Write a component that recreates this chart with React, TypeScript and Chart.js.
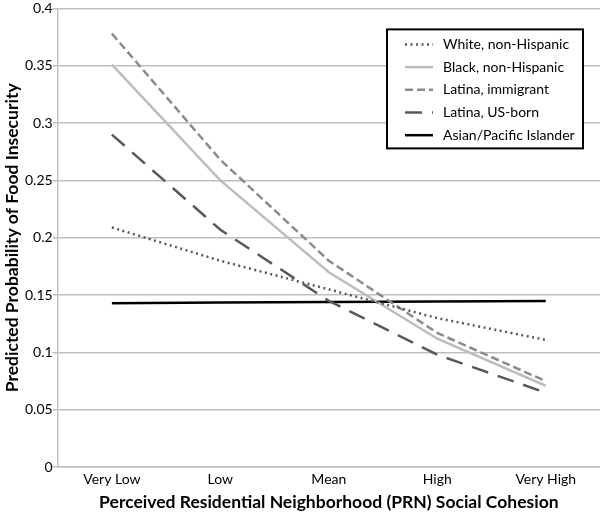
import React, { useEffect, useRef } from "react";
import { Chart, registerables } from "chart.js";

Chart.register(...registerables);

const categories = ["Very Low", "Low", "Mean", "High", "Very High"];
const whiteNH = [0.209, 0.18, 0.155, 0.13, 0.111];
const blackNH = [0.351, 0.25, 0.17, 0.112, 0.071];
const latinaImm = [0.378, 0.268, 0.18, 0.117, 0.075];
const latinaUS = [0.29, 0.207, 0.145, 0.098, 0.065];
const asianPI = [0.143, 0.1435, 0.144, 0.1445, 0.145];
const seriesNames = [
  "White, non-Hispanic",
  "Black, non-Hispanic",
  "Latina, immigrant",
  "Latina, US-born",
  "Asian/Pacific Islander",
];
const yTicks = [0, 0.05, 0.1, 0.15, 0.2, 0.25, 0.3, 0.35, 0.4];

const FONT = "Lato, 'Open Sans', sans-serif";

const legendPlugin = {
  id: "boxLegend",
  afterDraw(chart: any) {
    const ctx = chart.ctx;
    const area = chart.chartArea;
    const w = 196;
    const h = 119;
    const x0 = area.right - 17 - w;
    const y0 = area.top + 21;
    ctx.save();
    ctx.fillStyle = "#fff";
    ctx.fillRect(x0, y0, w, h);
    ctx.strokeStyle = "#000";
    ctx.lineWidth = 2;
    ctx.strokeRect(x0, y0, w, h);
    ctx.font = `14px ${FONT}`;
    ctx.textBaseline = "middle";
    chart.data.datasets.forEach((ds: any, i: number) => {
      const y = y0 + 15 + i * 22.7;
      ctx.beginPath();
      ctx.setLineDash(ds.borderDash || []);
      ctx.strokeStyle = ds.borderColor;
      ctx.lineWidth = ds.borderWidth;
      ctx.moveTo(x0 + 18, y);
      ctx.lineTo(x0 + 46, y);
      ctx.stroke();
      ctx.setLineDash([]);
      ctx.fillStyle = "#000";
      ctx.fillText(ds.label, x0 + 56, y);
    });
    ctx.restore();
  },
};

export default function App() {
  const ref = useRef<HTMLCanvasElement>(null);
  useEffect(() => {
    document.body.style.margin = "0";
    const mk = (label: string, data: number[], color: string, dash: number[], width = 2.5) => ({
      label,
      data,
      borderColor: color,
      backgroundColor: color,
      borderDash: dash,
      borderWidth: width,
      pointRadius: 0,
      tension: 0,
      fill: false,
    });
    const chart = new Chart(ref.current!, {
      type: "line",
      data: {
        labels: categories,
        datasets: [
          mk(seriesNames[0], whiteNH, "#595959", [2, 3.5]),
          mk(seriesNames[1], blackNH, "#bdbdbd", []),
          mk(seriesNames[2], latinaImm, "#8c8c8c", [8, 4]),
          mk(seriesNames[3], latinaUS, "#595959", [17, 10]),
          mk(seriesNames[4], asianPI, "#000000", []),
        ],
      },
      options: {
        animation: false,
        responsive: false,
        maintainAspectRatio: false,
        layout: { padding: { top: 7, right: 0, left: 2, bottom: 0 } },
        plugins: {
          legend: { display: false },
          tooltip: { enabled: false },
        },
        scales: {
          x: {
            offset: true,
            grid: { display: false, drawTicks: false },
            border: { color: "#bfbfbf", width: 1.5 },
            ticks: { color: "#000", font: { family: FONT, size: 14 }, padding: 4 },
            title: {
              display: true,
              text: "Perceived Residential Neighborhood (PRN) Social Cohesion",
              color: "#000",
              font: { family: FONT, size: 17.5, weight: "bold" },
              padding: { top: 0, bottom: 0 },
            },
          },
          y: {
            min: 0,
            max: 0.4,
            afterBuildTicks: (axis: any) => {
              axis.ticks = yTicks.map((v) => ({ value: v }));
            },
            grid: { color: "#bfbfbf", lineWidth: 1.5, drawTicks: true, tickLength: 5 },
            border: { color: "#bfbfbf", width: 1.5 },
            ticks: {
              color: "#000",
              font: { family: FONT, size: 14 },
              padding: 0,
              callback: (v: any) => String(+Number(v).toFixed(2)),
            },
            title: {
              display: true,
              text: "Predicted Probability of Food Insecurity",
              color: "#000",
              font: { family: FONT, size: 17.5, weight: "bold" },
              padding: { top: 0, bottom: 2 },
            },
          },
        },
      },
      plugins: [legendPlugin],
    } as any);
    return () => chart.destroy();
  }, []);
  return (
    <div style={{ width: 600, height: 513, position: "relative" }}>
      <canvas ref={ref} width={600} height={513} style={{ width: 600, height: 513 }} />
    </div>
  );
}
